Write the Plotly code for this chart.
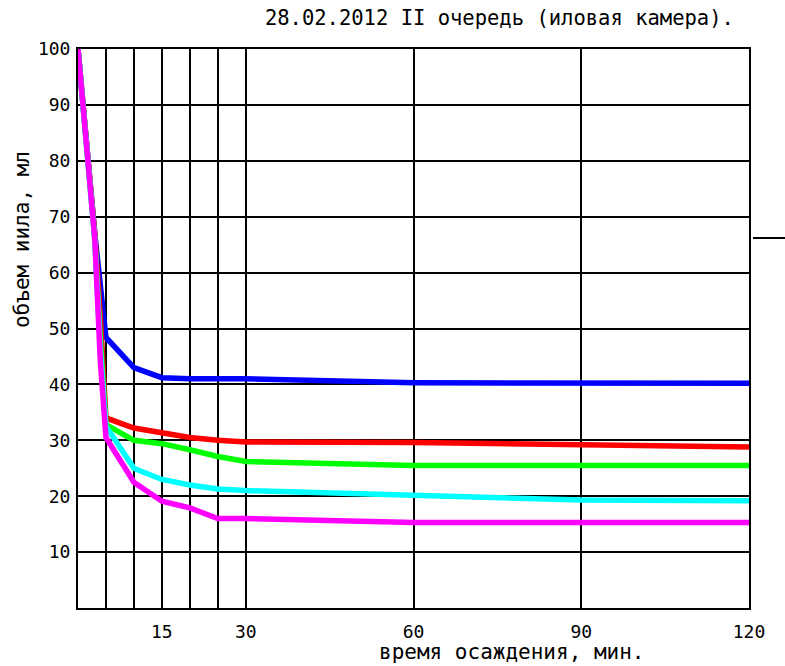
import plotly.graph_objects as go

# time, minutes
time = [0, 1, 2, 3, 4, 5, 10, 15, 20, 25, 30, 60, 90, 120]

# sludge volume, ml
blue = [100, 88, 78, 67, 57, 48.4, 43.0, 41.2, 41.0, 41.0, 41.0, 40.3, 40.2, 40.2]
red = [100, 89, 78, 67, 52, 34.0, 32.2, 31.4, 30.5, 30.0, 29.7, 29.6, 29.2, 28.8]
green = [100, 89, 78, 66, 48, 32.8, 30.0, 29.4, 28.3, 27.1, 26.2, 25.5, 25.5, 25.5]
cyan = [100, 89, 78, 66, 46, 32.5, 25.0, 23.0, 22.0, 21.3, 21.0, 20.2, 19.3, 19.2]
magenta = [100, 89, 78, 66, 44, 30.5, 22.5, 19.1, 17.9, 16.0, 16.0, 15.3, 15.3, 15.3]

series = [
    ("blue", blue, "#0000FF"),
    ("red", red, "#FF0000"),
    ("green", green, "#00FF00"),
    ("cyan", cyan, "#00FFFF"),
    ("magenta", magenta, "#FF00FF"),
]

x_grid = [5, 10, 15, 20, 25, 30, 60, 90, 120]
x_labels = ["", "", "15", "", "", "30", "60", "90", "120"]
y_grid = [10, 20, 30, 40, 50, 60, 70, 80, 90, 100]
y_labels = [str(v) for v in y_grid]

title_text = "28.02.2012 II очередь (иловая камера)."
x_title = "время осаждения, мин."
y_title = "объем иила, мл"

FONT = "DejaVu Sans Mono"

fig = go.Figure()
for name, vals, col in series:
    fig.add_trace(go.Scatter(x=time, y=vals, mode="lines", name=name,
                             line=dict(color=col, width=5.5), showlegend=False))

fig.update_layout(
    width=785, height=666, autosize=False,
    margin=dict(l=78, r=36, t=49, b=58),
    paper_bgcolor="white", plot_bgcolor="white",
    showlegend=False,
    title=dict(text=title_text, x=0.628, xref="paper", y=1 - 18 / 666, yref="container",
               xanchor="center", yanchor="middle",
               font=dict(family=FONT, size=20.5, color="black")),
    xaxis=dict(range=[0, 120], tickvals=x_grid, ticktext=x_labels,
               showgrid=True, gridcolor="black", gridwidth=2,
               showline=True, linecolor="black", linewidth=2, mirror=True,
               zeroline=False, ticks="", ticklabelstandoff=6,
               tickfont=dict(family=FONT, size=18, color="black")),
    yaxis=dict(range=[0, 100], tickvals=y_grid, ticktext=y_labels,
               showgrid=True, gridcolor="black", gridwidth=2,
               showline=True, linecolor="black", linewidth=2, mirror=True,
               zeroline=False, ticks="", ticklabelstandoff=2,
               tickfont=dict(family=FONT, size=18, color="black")),
    annotations=[
        dict(text=x_title, xref="paper", yref="paper", x=0.647, y=(608.3 - 652) / 559,
             xanchor="center", yanchor="middle", showarrow=False,
             font=dict(family=FONT, size=21, color="black")),
        dict(text=y_title, xref="paper", yref="paper", x=(21 - 77.7) / 671.3,
             y=(608.3 - 240) / 559, xanchor="center", yanchor="middle",
             showarrow=False, textangle=-90,
             font=dict(family=FONT, size=21, color="black")),
    ],
    shapes=[
        dict(type="line", xref="paper", yref="paper",
             x0=(753 - 77.7) / 671.3, x1=(786 - 77.7) / 671.3,
             y0=(608.3 - 238.3) / 559, y1=(608.3 - 238.3) / 559,
             line=dict(color="black", width=2)),
    ],
)

fig.write_html("out.html")
